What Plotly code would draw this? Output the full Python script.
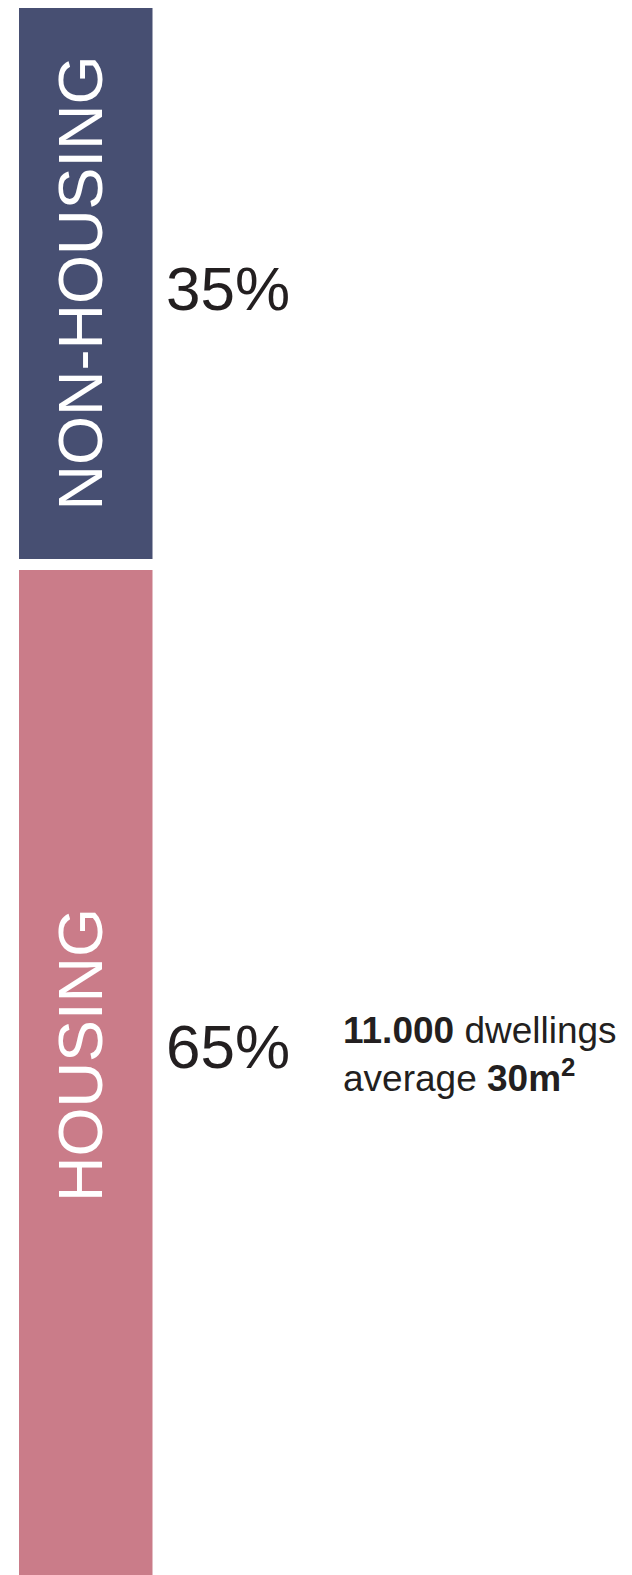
import plotly.graph_objects as go

# ---- data ----
categories = ["HOUSING", "NON-HOUSING"]
shares = [65, 35]
share_labels = ["65%", "35%"]
colors = ["#CA7C89", "#474F72"]
note_bold_count = "11.000"
note_count_text = "dwellings"
note_avg_text = "average"
note_bold_area = "30m<sup>2</sup>"

# ---- style / layout constants ----
W, H = 632, 1575
GAP = 0.70            # white gap between segments, in data units
PX_PER_UNIT = 15.74
FONT = "Liberation Sans, Arial, sans-serif"
TXT = "#231F20"

# y range so the top of the stack sits near pixel 8
y_hi = shares[0] + 570 / PX_PER_UNIT
y_lo = shares[0] - (H - 570) / PX_PER_UNIT

# x range so the bar (width 1 at x=0) spans pixels ~19..152.5
bar_px = 133.5
x_lo = -0.5 - 19 / bar_px
x_hi = x_lo + W / bar_px

fig = go.Figure()
bases = [0, shares[0] + GAP]
for cat, val, base, col in zip(categories, shares, bases, colors):
    fig.add_trace(go.Bar(
        x=[0], y=[val], base=[base], width=[1],
        marker=dict(color=col, line=dict(width=0)),
        name=cat, showlegend=False, hoverinfo="skip",
    ))

mids = [b + v / 2 for b, v in zip(bases, shares)]
# housing labels sit slightly above the segment middle in the reference
cat_y = [mids[0] + 1.68, mids[1]]
pct_y = [mids[0] + 2.25, mids[1] - 0.3]
note_y = mids[0] + 1.75

annotations = []
for cat, lab, cy, py in zip(categories, share_labels, cat_y, pct_y):
    annotations.append(dict(
        x=80 / W, xref="paper", y=cy, yref="y",
        text=cat, textangle=-90, showarrow=False,
        xanchor="center", yanchor="middle",
        font=dict(family=FONT, size=63, color="white"),
    ))
    annotations.append(dict(
        x=164 / W, xref="paper", y=py, yref="y",
        text=lab, showarrow=False, xanchor="left", yanchor="middle",
        font=dict(family=FONT, size=62, color=TXT),
    ))

annotations.append(dict(
    x=341 / W, xref="paper", y=note_y, yref="y",
    text=f"<b>{note_bold_count}</b> {note_count_text}<br>{note_avg_text} <b>{note_bold_area}</b>",
    showarrow=False, xanchor="left", yanchor="middle", align="left",
    font=dict(family=FONT, size=37, color=TXT),
))

fig.update_layout(
    width=W, height=H,
    margin=dict(l=0, r=0, t=0, b=0),
    paper_bgcolor="white", plot_bgcolor="white",
    barmode="overlay",
    xaxis=dict(range=[x_lo, x_hi], visible=False, fixedrange=True),
    yaxis=dict(range=[y_lo, y_hi], visible=False, fixedrange=True),
    annotations=annotations,
)

fig.write_html(
    "out.html",
    config={"displayModeBar": False},
    post_script="document.body.style.margin='0px';document.body.style.overflow='hidden';",
)
